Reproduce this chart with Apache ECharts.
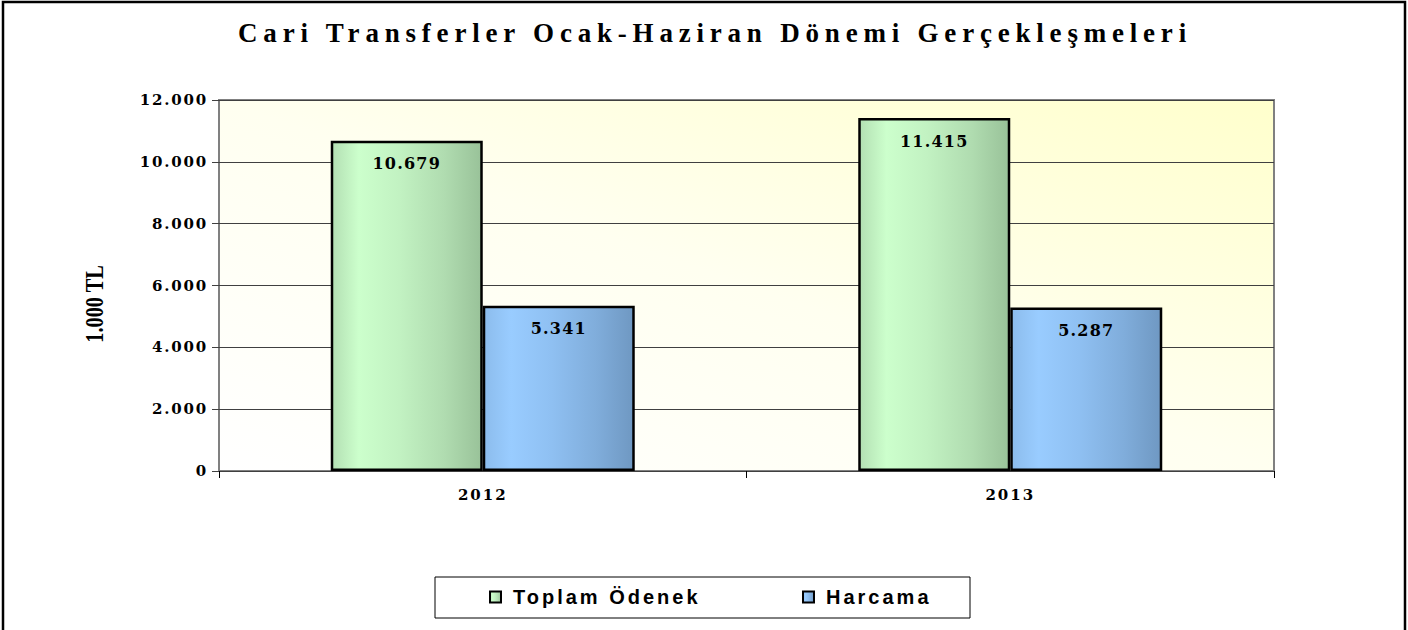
<!DOCTYPE html>
<html>
<head>
<meta charset="utf-8">
<script src="https://cdn.jsdelivr.net/npm/echarts@6/dist/echarts.min.js"></script>
<style>
  html, body { margin: 0; padding: 0; background: #fff; }
  #chart { width: 1408px; height: 630px; }
</style>
</head>
<body>
<div id="chart"></div>
<script>
// veriler
var years = ['2012', '2013'];
var toplamOdenek = [10679, 11415];
var harcama = [5341, 5287];
var seriesNames = ['Toplam Ödenek', 'Harcama'];
var yTicks = [0, 2000, 4000, 6000, 8000, 10000, 12000];
var chartTitle = 'Cari Transferler Ocak-Haziran Dönemi Gerçekleşmeleri';
var unitLabel = '1.000 TL';

var SERIF = '"Liberation Serif", "Times New Roman", serif';
var WIDE_SERIF = '"DejaVu Serif", "Liberation Serif", serif';
var SANS = '"Liberation Sans", Arial, sans-serif';

// 1.234 bicimi
function fmt(v) {
    return String(v).replace(/\B(?=(\d{3})+(?!\d))/g, '.');
}

function bandGradient(stops) {
    return new echarts.graphic.LinearGradient(0, 0, 1, 0, stops.map(function (s) {
        return { offset: s[0], color: s[1] };
    }));
}

var greenFill = bandGradient([
    [0, '#b3dfb3'], [0.18, '#ccffcc'], [0.45, '#c2f2c2'], [0.75, '#b0dcb0'], [1, '#99c299']
]);
var blueFill = bandGradient([
    [0, '#8cbcec'], [0.18, '#99ccff'], [0.45, '#8fc0f2'], [0.75, '#80addb'], [1, '#6f98c2']
]);

var chart = echarts.init(document.getElementById('chart'), null, { renderer: 'svg' });

var labelStyle = {
    show: true,
    position: 'insideTop',
    distance: 15,
    color: '#000',
    fontFamily: WIDE_SERIF,
    fontWeight: 'bold',
    fontSize: 16,
    formatter: function (p) { return fmt(p.value); }
};

var legendText = {
    fontFamily: SANS,
    fontWeight: 'bold',
    fontSize: 20,
    color: '#000',
    padding: [0, 0, 0, 7]
};

var option = {
    backgroundColor: '#fff',
    animation: false,
    grid: {
        left: 219,
        right: 134,
        top: 100,
        bottom: 159,
        show: true,
        borderColor: '#808080',
        borderWidth: 2,
        backgroundColor: new echarts.graphic.LinearGradient(0, 1, 1, 0, [
            { offset: 0, color: '#ffffff' },
            { offset: 0.5, color: '#fffff0' },
            { offset: 1, color: '#ffffcc' }
        ])
    },
    legend: [{
        data: [seriesNames[0]],
        left: 489,
        top: 587,
        padding: 0,
        icon: 'rect',
        itemWidth: 11,
        itemHeight: 11,
        textStyle: legendText
    }, {
        data: [seriesNames[1]],
        left: 802,
        top: 587,
        padding: 0,
        icon: 'rect',
        itemWidth: 11,
        itemHeight: 11,
        textStyle: legendText
    }],
    xAxis: {
        type: 'category',
        data: years,
        axisLine: { lineStyle: { color: '#404040', width: 1 } },
        axisTick: { show: true, length: 7, lineStyle: { color: '#000' } },
        axisLabel: {
            margin: 16,
            color: '#000',
            fontFamily: WIDE_SERIF,
            fontWeight: 'bold',
            fontSize: 15
        }
    },
    yAxis: {
        type: 'value',
        min: yTicks[0],
        max: yTicks[yTicks.length - 1],
        interval: yTicks[1] - yTicks[0],
        axisLine: { show: false },
        axisTick: { show: true, length: 7, lineStyle: { color: '#404040' } },
        splitLine: { lineStyle: { color: '#404040', width: 1 } },
        axisLabel: {
            margin: 11,
            padding: [8, 0, 0, 0],
            color: '#000',
            fontFamily: WIDE_SERIF,
            fontWeight: 'bold',
            fontSize: 15,
            formatter: fmt
        }
    },
    series: [{
        name: seriesNames[0],
        type: 'bar',
        data: toplamOdenek,
        barWidth: 152,
        barGap: '0%',
        itemStyle: { color: greenFill, borderColor: '#000', borderWidth: 2.5 },
        label: labelStyle
    }, {
        name: seriesNames[1],
        type: 'bar',
        data: harcama,
        barWidth: 152,
        barGap: '0%',
        itemStyle: { color: blueFill, borderColor: '#000', borderWidth: 2.5 },
        label: labelStyle
    }],
    graphic: [{
        type: 'rect',
        shape: { x: 3, y: 2, width: 1402, height: 640 },
        style: { fill: 'none', stroke: '#000', lineWidth: 2.5 },
        silent: true
    }, {
        type: 'rect',
        shape: { x: 435, y: 577, width: 535, height: 41 },
        style: { fill: 'none', stroke: '#000', lineWidth: 1 },
        silent: true
    }, {
        type: 'text',
        x: 715,
        y: 33,
        style: {
            text: chartTitle,
            fill: '#000',
            font: 'bold 27px ' + SERIF,
            textAlign: 'center',
            textVerticalAlign: 'middle'
        }
    }, {
        type: 'text',
        x: 94,
        y: 304,
        rotation: Math.PI / 2,
        scaleX: 0.78,
        style: {
            text: unitLabel,
            fill: '#000',
            font: 'bold 26px ' + SERIF,
            textAlign: 'center',
            textVerticalAlign: 'middle'
        }
    }]
};

chart.setOption(option);

// harf araliklari (svg text), referanstaki genis yazi icin
var spacing = {};
spacing[chartTitle] = 5.8;
seriesNames.forEach(function (n) { spacing[n] = 3; });
yTicks.forEach(function (v) { spacing[fmt(v)] = 1.8; });
years.forEach(function (y) { spacing[y] = 2; });
toplamOdenek.concat(harcama).forEach(function (v) { spacing[fmt(v)] = 1.2; });

function spaceText() {
    var texts = document.querySelectorAll('#chart svg text');
    for (var i = 0; i < texts.length; i++) {
        var s = spacing[texts[i].textContent];
        if (s) {
            texts[i].style.letterSpacing = s + 'px';
        }
    }
}
spaceText();
chart.on('finished', spaceText);
</script>
</body>
</html>
